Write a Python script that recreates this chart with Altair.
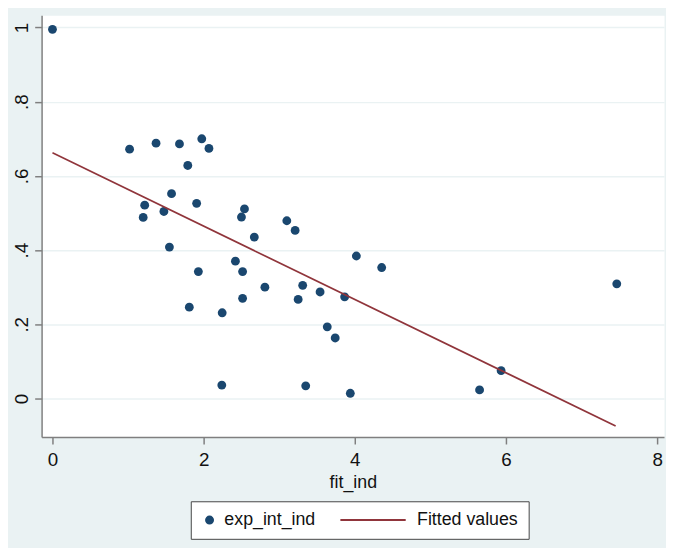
import altair as alt
import pandas as pd

# scatter values
fit_ind = [0.0, 1.02, 1.37, 1.68, 1.975, 2.07, 1.79,
           1.22, 1.20, 1.575, 1.474, 1.907, 2.54, 2.50, 3.10, 3.21, 2.67,
           1.547, 2.42, 1.93, 2.515, 4.02, 4.355, 2.81, 3.31, 3.54, 3.865,
           3.25, 2.515, 1.81, 2.245, 3.635, 3.74, 7.465, 5.935,
           2.24, 3.35, 3.94, 5.65]
exp_int_ind = [0.995, 0.672, 0.688, 0.686, 0.700, 0.674, 0.628,
               0.521, 0.488, 0.552, 0.504, 0.526, 0.511, 0.489, 0.479, 0.453, 0.435,
               0.408, 0.370, 0.342, 0.342, 0.384, 0.353, 0.300, 0.305, 0.287, 0.274,
               0.267, 0.270, 0.246, 0.231, 0.193, 0.163, 0.309, 0.075,
               0.036, 0.034, 0.014, 0.023]

# fitted line end points
fit_line_x = [0.0, 7.45]
fit_line_y = [0.662, -0.074]

series_names = ["exp_int_ind", "Fitted values"]
series_colors = ["#1a476f", "#90353b"]
x_ticks = [0, 2, 4, 6, 8]
y_ticks = [0, 0.2, 0.4, 0.6, 0.8, 1]

pts = pd.DataFrame({"fit_ind": fit_ind, "value": exp_int_ind, "series": series_names[0]})
line = pd.DataFrame({"fit_ind": fit_line_x, "value": fit_line_y, "series": series_names[1]})

FONT = "Liberation Sans"

color_scale = alt.Scale(domain=series_names, range=series_colors)
shape_scale = alt.Scale(domain=series_names, range=["circle", "M-17.7,0L1,0"])

legend = alt.Legend(
    title=None, orient="none", legendX=151, legendY=492, direction="horizontal",
    columns=2, fillColor="white", strokeColor="#444444", padding=10,
    labelFont=FONT, labelFontSize=18, labelColor="#111111", labelOffset=6,
    symbolSize=50, symbolStrokeWidth=2, columnPadding=20, labelLimit=300,
    symbolStrokeColor=alt.ExprRef("scale('color', datum.value)"),
)

x = alt.X(
    "fit_ind:Q",
    scale=alt.Scale(domain=[-0.144, 8.09], nice=False, zero=False),
    axis=alt.Axis(values=x_ticks, title="fit_ind", grid=False, labelFontSize=19,
                  titleFontSize=18, labelPadding=7, titlePadding=4, format="d"),
)
y = alt.Y(
    "value:Q",
    scale=alt.Scale(domain=[-0.104, 1.033], nice=False, zero=False),
    axis=alt.Axis(values=y_ticks, title=None, grid=True, labelAngle=270,
                  labelAlign="center", labelBaseline="bottom", labelPadding=3,
                  labelFontSize=19,
                  labelExpr="datum.value == 0 ? '0' : datum.value == 1 ? '1' : replace(format(datum.value, '.1f'), '0.', '.')"),
)

points = alt.Chart(pts).mark_point(filled=True, size=80, opacity=1).encode(
    x=x, y=y,
    color=alt.Color("series:N", scale=color_scale, legend=legend),
    shape=alt.Shape("series:N", scale=shape_scale, legend=legend),
)

fit = alt.Chart(line).mark_line(strokeWidth=1.7).encode(
    x=x, y=y,
    color=alt.Color("series:N", scale=color_scale, legend=legend),
)

chart = alt.layer(points, fit).properties(
    width=630, height=427,
    padding={"left": 34, "top": 4, "right": 2, "bottom": 109},
    autosize=alt.AutoSizeParams(type="none"),
    background="#eaf2f3",
).configure_view(
    fill="white", stroke="transparent"
).configure_axis(
    domainColor="#7f7f7f", domainWidth=1.5, tickColor="#7f7f7f", tickSize=7,
    tickWidth=1.5, labelColor="#111111", titleColor="#111111",
    labelFont=FONT, titleFont=FONT, titleFontWeight="normal",
    gridColor="#eaf2f3", gridWidth=1.5,
)

chart.save("out.html", embed_options={"renderer": "svg", "actions": False})
